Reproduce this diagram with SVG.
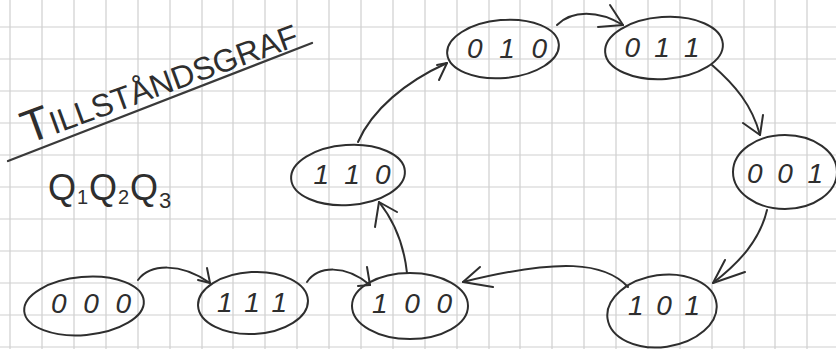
<svg xmlns="http://www.w3.org/2000/svg" width="836" height="349" viewBox="0 0 836 349">
<defs>
<style>
.grid line{stroke:#cfcfcf;stroke-width:1.2}
.node ellipse{fill:none;stroke:#2e2e2e;stroke-width:2}
.node text{font-family:"Liberation Sans",Arial,sans-serif;font-style:italic;font-size:28px;fill:#2e2e2e;text-anchor:middle}
.edges path{fill:none;stroke:#2e2e2e;stroke-width:2;stroke-linecap:round;stroke-linejoin:round}
.hand{font-family:"Liberation Sans",Arial,sans-serif;fill:#2e2e2e}
</style>
</defs>
<rect width="836" height="349" fill="#ffffff"/>
<g class="grid">
<line x1="10" y1="0" x2="10" y2="349"/><line x1="42" y1="0" x2="42" y2="349"/><line x1="74" y1="0" x2="74" y2="349"/><line x1="106" y1="0" x2="106" y2="349"/><line x1="138" y1="0" x2="138" y2="349"/><line x1="170" y1="0" x2="170" y2="349"/><line x1="202" y1="0" x2="202" y2="349"/><line x1="233" y1="0" x2="233" y2="349"/><line x1="265" y1="0" x2="265" y2="349"/><line x1="297" y1="0" x2="297" y2="349"/><line x1="329" y1="0" x2="329" y2="349"/><line x1="361" y1="0" x2="361" y2="349"/><line x1="393" y1="0" x2="393" y2="349"/><line x1="425" y1="0" x2="425" y2="349"/><line x1="457" y1="0" x2="457" y2="349"/><line x1="489" y1="0" x2="489" y2="349"/><line x1="520" y1="0" x2="520" y2="349"/><line x1="552" y1="0" x2="552" y2="349"/><line x1="584" y1="0" x2="584" y2="349"/><line x1="616" y1="0" x2="616" y2="349"/><line x1="648" y1="0" x2="648" y2="349"/><line x1="680" y1="0" x2="680" y2="349"/><line x1="712" y1="0" x2="712" y2="349"/><line x1="744" y1="0" x2="744" y2="349"/><line x1="775" y1="0" x2="775" y2="349"/><line x1="807" y1="0" x2="807" y2="349"/>
<line x1="0" y1="27" x2="836" y2="27"/><line x1="0" y1="59" x2="836" y2="59"/><line x1="0" y1="91" x2="836" y2="91"/><line x1="0" y1="123" x2="836" y2="123"/><line x1="0" y1="155" x2="836" y2="155"/><line x1="0" y1="187" x2="836" y2="187"/><line x1="0" y1="219" x2="836" y2="219"/><line x1="0" y1="251" x2="836" y2="251"/><line x1="0" y1="283" x2="836" y2="283"/><line x1="0" y1="315" x2="836" y2="315"/><line x1="0" y1="347" x2="836" y2="347"/>
</g>
<g id="title">
<text class="hand" transform="translate(28,144) rotate(-20)" font-size="32" textLength="290" lengthAdjust="spacingAndGlyphs"><tspan font-size="46">T</tspan>ILLSTÅNDSGRAF</text>
<path d="M8,161 L312,43" stroke="#3a3a3a" stroke-width="2.2" fill="none" stroke-linecap="round"/>
</g>
<g id="variables">
<text class="hand" font-size="36" y="200"><tspan x="48">Q</tspan><tspan x="77" dy="4" font-size="20">1</tspan><tspan x="89" dy="-4">Q</tspan><tspan x="118" dy="4" font-size="20">2</tspan><tspan x="130" dy="-4">Q</tspan><tspan x="159" dy="8" font-size="22">3</tspan></text>
</g>
<g id="edges" class="edges">
<path d="M138,280 C150,264 180,262 210,283"/><path d="M198,280 L210,283 L207,268"/>
<path d="M307,282 C318,266 345,264 370,285"/><path d="M358,286 L370,285 L367,267"/>
<path d="M407,273 C404,245 395,222 379,202"/><path d="M375,227 L379,202 L397,212"/>
<path d="M358,142 C372,110 405,82 447,63"/><path d="M437,65 L447,63 L439,80"/>
<path d="M557,25 C572,10 598,10 623,25"/><path d="M598,27 L623,25 L610,5"/>
<path d="M712,65 C735,85 752,105 760,135"/><path d="M743,123 L760,135 L763,115"/>
<path d="M767,210 C760,240 740,262 713,283"/><path d="M725,260 L713,283 L745,272"/>
<path d="M628,287 C605,262 560,258 463,282"/><path d="M480,267 L463,282 L493,287"/>
</g>
<g id="n000" class="node"><ellipse cx="84" cy="306" rx="60" ry="29" transform="rotate(-5 84 306)"/><text x="91" y="313" textLength="80">0 0 0</text></g>
<g id="n111" class="node"><ellipse cx="253" cy="303" rx="55" ry="31" transform="rotate(-3 253 303)"/><text x="252" y="312" textLength="70">1 1 1</text></g>
<g id="n100" class="node"><ellipse cx="410" cy="306" rx="58" ry="33"/><text x="412" y="313" textLength="80">1 0 0</text></g>
<g id="n101" class="node"><ellipse cx="662" cy="311" rx="55" ry="36" transform="rotate(-8 662 311)"/><text x="664" y="315" textLength="72">1 0 1</text></g>
<g id="n001" class="node"><ellipse cx="785" cy="172" rx="52" ry="37"/><text x="785" y="183" textLength="76">0 0 1</text></g>
<g id="n011" class="node"><ellipse cx="664" cy="48" rx="59" ry="31" transform="rotate(-4 664 48)"/><text x="662" y="57" textLength="75">0 1 1</text></g>
<g id="n010" class="node"><ellipse cx="503" cy="49" rx="56" ry="29" transform="rotate(-5 503 49)"/><text x="507" y="58" textLength="80">0 1 0</text></g>
<g id="n110" class="node"><ellipse cx="348" cy="175" rx="57" ry="30" transform="rotate(-4 348 175)"/><text x="352" y="184" textLength="77">1 1 0</text></g>
</svg>
